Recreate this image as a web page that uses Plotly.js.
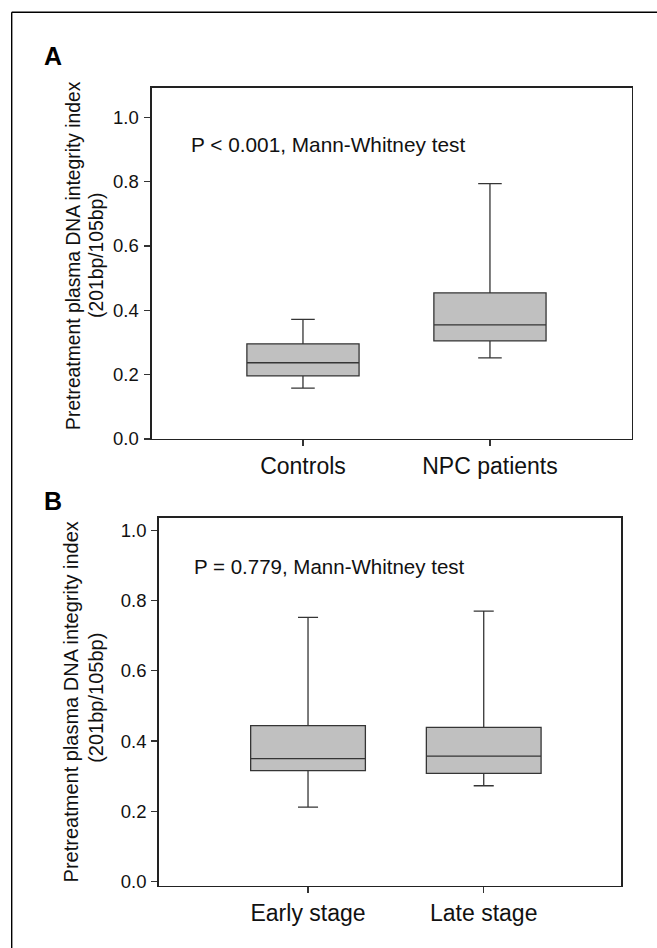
<!DOCTYPE html>
<html>
<head>
<meta charset="utf-8">
<script src="https://cdn.plot.ly/plotly-3.0.1.min.js"></script>
<style>
  html, body { margin: 0; padding: 0; background: #ffffff; }
  #chart { width: 657px; height: 948px; }
</style>
</head>
<body>
<div id="chart"></div>
<script>
// ---- Data ----
const categoriesA = ['Controls', 'NPC patients'];
const lowerA  = [0.158, 0.252];
const q1A     = [0.196, 0.305];
const medianA = [0.237, 0.355];
const q3A     = [0.296, 0.454];
const upperA  = [0.372, 0.794];

const categoriesB = ['Early stage', 'Late stage'];
const lowerB  = [0.212, 0.273];
const q1B     = [0.316, 0.308];
const medianB = [0.350, 0.357];
const q3B     = [0.444, 0.439];
const upperB  = [0.752, 0.770];

const yTickVals   = [0, 0.2, 0.4, 0.6, 0.8, 1.0];
const yTickLabels = ['0.0', '0.2', '0.4', '0.6', '0.8', '1.0'];

const panelLabels = ['A', 'B'];
const testTextA = 'P < 0.001, Mann-Whitney test';
const testTextB = 'P = 0.779, Mann-Whitney test';
const yTitleLine1 = 'Pretreatment plasma DNA integrity index';
const yTitleLine2 = '(201bp/105bp)';

// ---- Layout helpers (pixel -> paper) ----
const W = 657, H = 948;
const px = v => v / W;
const py = v => 1 - v / H;

const FONT = '"Liberation Sans", Arial, Helvetica, sans-serif';

const boxStyle = {
  type: 'box',
  fillcolor: '#c0c0c0',
  line: { color: '#353535', width: 1.3 },
  boxpoints: false,
  hoverinfo: 'skip',
  showlegend: false
};

const traceA = Object.assign({}, boxStyle, {
  x: categoriesA, q1: q1A, median: medianA, q3: q3A,
  lowerfence: lowerA, upperfence: upperA,
  width: 0.6, whiskerwidth: 0.21,
  xaxis: 'x', yaxis: 'y'
});

const traceB = Object.assign({}, boxStyle, {
  x: categoriesB, q1: q1B, median: medianB, q3: q3B,
  lowerfence: lowerB, upperfence: upperB,
  width: 0.653, whiskerwidth: 0.175,
  xaxis: 'x2', yaxis: 'y2'
});

const axisCommon = {
  showgrid: false, zeroline: false,
  showline: true, linecolor: '#222222', linewidth: 1.3, mirror: true,
  ticks: 'outside', ticklen: 6, tickwidth: 1.2, tickcolor: '#333333',
  fixedrange: true
};

const layout = {
  width: W, height: H,
  margin: { l: 0, r: 0, t: 0, b: 0 },
  paper_bgcolor: '#ffffff', plot_bgcolor: '#ffffff',
  font: { family: FONT, color: '#111111' },
  showlegend: false,
  xaxis: Object.assign({}, axisCommon, {
    type: 'category',
    domain: [px(151.7), px(631.7)],
    range: [-0.809, 1.758],
    anchor: 'y',
    tickfont: { size: 23, family: FONT, color: '#111' }
  }),
  yaxis: Object.assign({}, axisCommon, {
    domain: [py(439), py(87.7)],
    range: [0, 1.092],
    anchor: 'x',
    tickvals: yTickVals, ticktext: yTickLabels,
    ticklabelstandoff: 2,
    tickfont: { size: 18.5, family: FONT, color: '#111' }
  }),
  xaxis2: Object.assign({}, axisCommon, {
    type: 'category',
    domain: [px(158.5), px(621.3)],
    range: [-0.851, 1.783],
    anchor: 'y2',
    tickfont: { size: 23, family: FONT, color: '#111' }
  }),
  yaxis2: Object.assign({}, axisCommon, {
    domain: [py(885.7), py(517.7)],
    range: [-0.0114, 1.0355],
    anchor: 'x2',
    tickvals: yTickVals, ticktext: yTickLabels,
    ticklabelstandoff: 1,
    tickfont: { size: 18.5, family: FONT, color: '#111' }
  }),
  shapes: [
    { type: 'line', xref: 'paper', yref: 'paper',
      x0: px(11.7), x1: 1.02, y0: py(12.3), y1: py(12.3),
      line: { color: '#000000', width: 1.4 } },
    { type: 'line', xref: 'paper', yref: 'paper',
      x0: px(11.7), x1: px(11.7), y0: py(12.3), y1: -0.02,
      line: { color: '#000000', width: 1.4 } }
  ],
  annotations: [
    { text: '<b>' + panelLabels[0] + '</b>', xref: 'paper', yref: 'paper',
      x: px(53.3), y: py(56.3), xanchor: 'center', yanchor: 'middle',
      showarrow: false, font: { size: 25, family: FONT, color: '#000' } },
    { text: '<b>' + panelLabels[1] + '</b>', xref: 'paper', yref: 'paper',
      x: px(53.3), y: py(501.3), xanchor: 'center', yanchor: 'middle',
      showarrow: false, font: { size: 25, family: FONT, color: '#000' } },
    { text: testTextA, xref: 'paper', yref: 'paper',
      x: px(189), y: py(144.6), xanchor: 'left', yanchor: 'middle',
      showarrow: false, font: { size: 20.8, family: FONT, color: '#111' } },
    { text: testTextB, xref: 'paper', yref: 'paper',
      x: px(192.3), y: py(566.2), xanchor: 'left', yanchor: 'middle',
      showarrow: false, font: { size: 20.5, family: FONT, color: '#111' } },
    { text: yTitleLine1, xref: 'paper', yref: 'paper', textangle: -90,
      x: px(73.5), y: py(255.4), xanchor: 'center', yanchor: 'middle',
      showarrow: false, font: { size: 19.3, family: FONT, color: '#111' } },
    { text: yTitleLine2, xref: 'paper', yref: 'paper', textangle: -90,
      x: px(96.5), y: py(255.4), xanchor: 'center', yanchor: 'middle',
      showarrow: false, font: { size: 19.3, family: FONT, color: '#111' } },
    { text: yTitleLine1, xref: 'paper', yref: 'paper', textangle: -90,
      x: px(71), y: py(702.4), xanchor: 'center', yanchor: 'middle',
      showarrow: false, font: { size: 20, family: FONT, color: '#111' } },
    { text: yTitleLine2, xref: 'paper', yref: 'paper', textangle: -90,
      x: px(96.5), y: py(698.3), xanchor: 'center', yanchor: 'middle',
      showarrow: false, font: { size: 20, family: FONT, color: '#111' } }
  ]
};

Plotly.newPlot('chart', [traceA, traceB], layout, { displayModeBar: false, staticPlot: true });
</script>
</body>
</html>
